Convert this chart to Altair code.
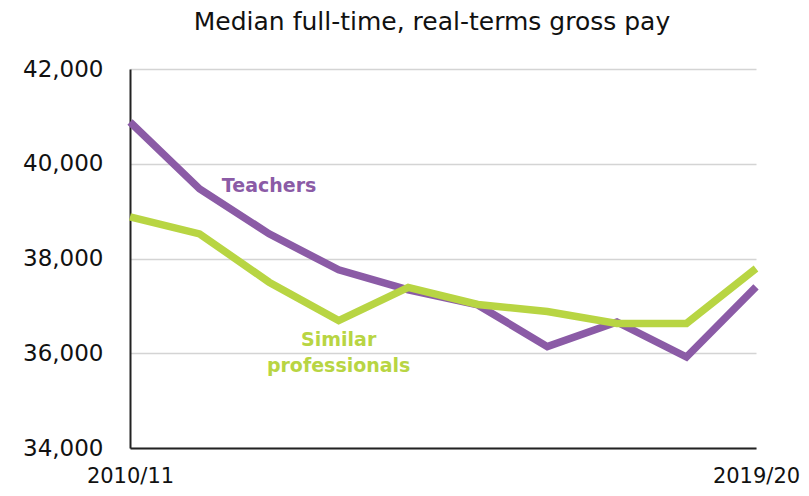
import altair as alt
import pandas as pd

years = ["2010/11", "2011/12", "2012/13", "2013/14", "2014/15",
         "2015/16", "2016/17", "2017/18", "2018/19", "2019/20"]
teachers = [40880, 39470, 38520, 37760, 37340, 37020, 36140, 36660, 35920, 37400]
similar = [38880, 38520, 37500, 36690, 37390, 37030, 36880, 36630, 36630, 37790]

series_names = ["Teachers", "Similar professionals"]
colors = ["#8B5BA6", "#B8D543"]

label_texts = [["Teachers"], ["Similar", "professionals"]]
label_x = ["2012/13", "2013/14"]
label_y = [39520, 36270]

rows = []
for y, t, s in zip(years, teachers, similar):
    rows.append({"year": y, "pay": t, "series": "Teachers"})
    rows.append({"year": y, "pay": s, "series": "Similar professionals"})
df = pd.DataFrame(rows)

lab = pd.DataFrame({"text": label_texts, "year": label_x, "pay": label_y,
                    "series": series_names})

FONT = "DejaVu Sans"

x = alt.X("year:N", sort=years,
          scale=alt.Scale(type="point", padding=0),
          axis=alt.Axis(values=[years[0], years[-1]], title=None, labelAngle=0,
                        labelFontSize=21, labelColor="#111", labelFont=FONT,
                        labelPadding=17, ticks=False, domainColor="#222",
                        domainWidth=2, grid=False))
y = alt.Y("pay:Q", scale=alt.Scale(domain=[34000, 42000]),
          axis=alt.Axis(values=[34000, 36000, 38000, 40000, 42000], format=",.0f",
                        title=None, labelFontSize=23, labelColor="#111",
                        labelFont=FONT, labelPadding=27, ticks=False,
                        domainColor="#222", domainWidth=2,
                        gridColor="#d4d4d4", gridWidth=1.5))
color = alt.Color("series:N", scale=alt.Scale(domain=series_names, range=colors),
                  legend=None)

lines = alt.Chart(df).mark_line(strokeWidth=7.5, strokeJoin="miter").encode(
    x=x, y=y, color=color, detail="series:N",
    order=alt.Order("series:N", sort="descending"))

labels = alt.Chart(lab).mark_text(fontSize=19, fontWeight="bold", font=FONT,
                                  lineHeight=26).encode(
    x=alt.X("year:N", sort=years), y="pay:Q", text="text", color=color)

chart = alt.layer(lines, labels).properties(
    width=626, height=379,
    title=alt.TitleParams("Median full-time, real-terms gross pay",
                          fontSize=25, fontWeight="normal", font=FONT,
                          color="#111", anchor="middle", dx=-11, offset=23),
    autosize=alt.AutoSizeParams(type="none"),
    padding={"left": 122, "top": 61, "right": 45, "bottom": 40},
).configure_view(stroke=None)

chart.save("out.html", embed_options={"renderer": "svg", "actions": False})
